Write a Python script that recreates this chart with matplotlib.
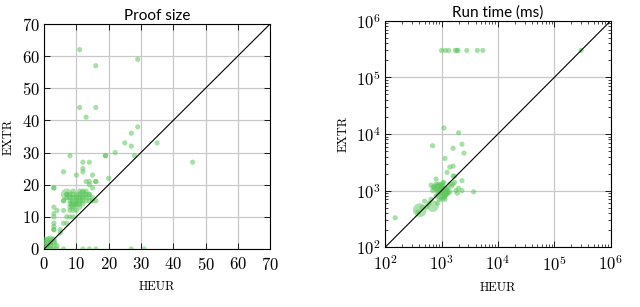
import numpy as np
import matplotlib
matplotlib.use("Agg")
import matplotlib.pyplot as plt
from matplotlib.ticker import LogLocator, NullFormatter

plt.rcParams.update({
    "font.family": "cmr10",
    "mathtext.fontset": "cm",
    "axes.formatter.use_mathtext": True,
    "font.size": 12,
})

# Proof size: HEUR vs EXTR
ps_heur = [11, 16, 29, 11, 16, 13, 29, 27, 25, 35, 27, 22, 19, 19, 8, 28, 46, 12, 14, 6,
           12, 12, 10, 15, 20, 13, 14, 16, 16, 3, 3, 15, 14,
           7, 8, 9, 10, 11, 12, 13, 14, 8, 9, 10, 11, 12, 13, 14, 15, 12, 6, 6, 7, 8, 9,
           8, 7, 6, 5, 5, 3, 3, 3, 3, 3, 3, 3, 4, 10, 9, 11, 8, 14, 15, 13, 7, 10, 11, 9,
           16, 12, 6, 7, 8, 9, 11, 13, 8, 10, 12, 14, 9, 11,
           2, 1, 2, 1, 3, 2, 1, 0, 0, 0, 1, 2, 0, 3, 4, 6, 12, 14, 16, 27, 31, 3, 4, 2, 1]
ps_extr = [62, 57, 59, 44, 44, 41, 38, 36, 33, 33, 32, 30, 29, 29, 29, 29, 27, 27, 27, 24,
           25, 24, 23, 23, 22, 21, 21, 21, 21, 19, 19, 19, 20,
           17, 17, 16, 15, 16, 17, 18, 16, 14, 13, 14, 15, 15, 16, 15, 16, 18, 15, 12, 10, 10, 10,
           12, 8, 8, 6, 5, 13, 11, 10, 8, 7, 6, 6, 12, 12, 12, 14, 15, 17, 15, 17, 16, 17, 18, 18,
           15, 16, 15, 17, 16, 17, 17, 15, 13, 16, 14, 17, 14, 13,
           2, 1, 1, 2, 2, 3, 3, 1, 2, 3, 0, 0, 0, 0, 0, 0, 0, 0, 0, 0, 0, 3, 1, 2, 1]
# heavier (repeated) points drawn as bigger bubbles
ps_big_heur = [2, 7, 10, 12, 9]
ps_big_extr = [2, 17, 15, 17, 14]
ps_big_size = [7, 5, 6, 3, 3]

# Run time (ms)
rt_heur = [1000, 1170, 1340, 1750, 1880, 1950, 2800, 4300, 5400, 300000,
           1100, 2000, 690, 2300, 1600, 2500, 1150, 1400, 1600, 1250, 1600, 2300, 800, 3700, 2300,
           150, 380, 450, 600, 650, 800, 900, 1000, 1100, 1200, 950, 850, 1050,
           1300, 1400, 750, 1000, 900, 1150, 1250, 1800, 1600, 700, 500, 550, 1000, 1200, 850,
           750, 800, 950, 1050, 1100, 1300, 1500, 1700, 2000, 900, 1000, 1200, 1400, 700, 850,
           650, 1100, 1000, 1250, 1900, 1700, 950, 1150]
rt_extr = [300000, 300000, 300000, 300000, 300000, 300000, 300000, 300000, 300000, 300000,
           12800, 10500, 6200, 6600, 5600, 4600, 3700, 2600, 2700, 2100, 1800, 1500, 1600, 950, 1000,
           330, 420, 500, 600, 700, 800, 900, 950, 1000, 850, 1100, 1200, 1250,
           1100, 1300, 1200, 700, 1300, 800, 900, 1000, 1300, 1000, 650, 520, 1150, 950, 1050,
           1100, 1300, 1250, 1350, 750, 900, 1200, 1400, 1100, 700, 800, 850, 950, 1150, 600,
           1250, 1400, 1100, 1050, 900, 1800, 1000, 700]
rt_big_heur = [410, 700, 1000, 1100, 900]
rt_big_extr = [450, 530, 900, 1000, 1100]
rt_big_size = [7, 5, 6, 4, 4]

green = (0.36, 0.78, 0.36)
base_s = 14

fig = plt.figure(figsize=(6.4, 3.07), dpi=100)
ax1 = fig.add_axes([0.069, 0.189, 0.353, 0.733])
ax2 = fig.add_axes([0.602, 0.195, 0.352, 0.737])

for ax in (ax1, ax2):
    ax.grid(True, color="#c8c8c8", linewidth=0.9, zorder=0)
    ax.set_axisbelow(True)
    for sp in ax.spines.values():
        sp.set_linewidth(0.8)
    ax.tick_params(which="both", direction="in", top=True, right=True, labelsize=12)
    ax.tick_params(axis="x", pad=5)
    ax.tick_params(axis="y", pad=3)
    ax.tick_params(which="major", length=4, width=0.6)
    ax.tick_params(which="minor", length=2.5, width=0.5)
    ax.set_xlabel("HEUR", fontsize=9, labelpad=6)
    ax.set_ylabel("EXTR", fontsize=9, labelpad=5)

ax1.scatter(ps_heur, ps_extr, s=base_s, color=green, alpha=0.55, edgecolors="none", zorder=3)
ax1.scatter(ps_big_heur, ps_big_extr, s=np.array(ps_big_size) * base_s, color=green,
            alpha=0.5, edgecolors="none", zorder=3)
ax1.plot([0, 70], [0, 70], color="black", linewidth=0.8, zorder=4)
ax1.set_xlim(0, 70)
ax1.set_ylim(0, 70)
ax1.set_xticks(range(0, 71, 10))
ax1.set_yticks(range(0, 71, 10))
ax1.set_title("Proof size", fontsize=11, family="Lato", pad=3)

ax2.scatter(rt_heur, rt_extr, s=base_s, color=green, alpha=0.55, edgecolors="none", zorder=3)
ax2.scatter(rt_big_heur, rt_big_extr, s=np.array(rt_big_size) * base_s, color=green,
            alpha=0.5, edgecolors="none", zorder=3)
ax2.plot([1e2, 1e6], [1e2, 1e6], color="black", linewidth=0.8, zorder=4)
ax2.set_xscale("log")
ax2.set_yscale("log")
ax2.set_xlim(1e2, 1e6)
ax2.set_ylim(1e2, 1e6)
for axis in (ax2.xaxis, ax2.yaxis):
    axis.set_major_locator(LogLocator(base=10, numticks=10))
    axis.set_minor_locator(LogLocator(base=10, subs=np.arange(2, 10), numticks=10))
    axis.set_minor_formatter(NullFormatter())
ax2.set_title("Run time (ms)", fontsize=11, family="Lato", pad=3)

fig.savefig("out.png", dpi=100)
